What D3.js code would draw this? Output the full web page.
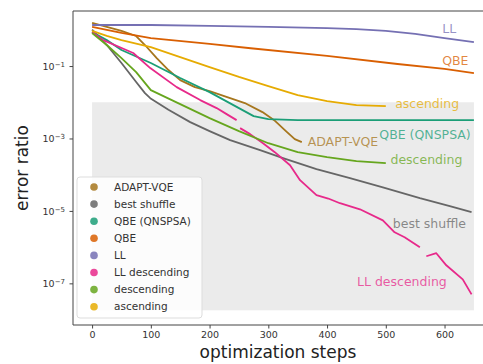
<!DOCTYPE html>
<html><head><meta charset="utf-8">
<script src="https://cdn.jsdelivr.net/npm/d3@7"></script>
<style>body{margin:0;background:#fff}svg{display:block}text{font-family:"DejaVu Sans",sans-serif}</style>
</head><body>
<svg id="c" width="483" height="364"></svg>
<script>
// ---- data ----
const seriesNames = ["ADAPT-VQE","best shuffle","QBE (QNSPSA)","QBE","LL","LL descending","descending","ascending"];
const seriesColors = ["#a6761d","#666666","#1b9e77","#d95f02","#7570b3","#e7298a","#66a61e","#e6ab02"];

const adaptSteps = [0,25,50,75,90,110,130,150,175,200,230,260,290,310,330,345,357];
const adaptVals  = [1.55,1.2,0.93,0.675,0.381,0.166,0.0775,0.041,0.0262,0.0204,0.0139,0.0095,0.00535,0.00321,0.0016,0.00096,0.00079];

const shuffleSteps = [0,25,50,75,90,99,130,167,200,235,286,325,382,439,495,558,609,646];
const shuffleVals  = [1.01,0.381,0.121,0.0361,0.0179,0.013,0.0062,0.00283,0.0016,9.0e-4,4.76e-4,2.86e-4,1.42e-4,8.0e-5,4.5e-5,2.24e-5,1.35e-5,9.2e-6];

const qnspsaSteps = [0,25,50,100,150,200,250,275,300,350,450,550,650];
const qnspsaVals  = [0.871,0.52,0.277,0.121,0.0466,0.0191,0.0069,0.00415,0.00343,0.00321,0.00321,0.00321,0.00321];

const qbeSteps = [0,50,100,200,270,400,520,600,650];
const qbeVals  = [1.2,0.82,0.59,0.41,0.31,0.19,0.114,0.083,0.064];

const llSteps = [0,100,200,300,400,450,500,550,600,650];
const llVals  = [1.36,1.36,1.28,1.2,1.12,1.05,0.93,0.77,0.59,0.46];

const llDescSteps = [0,19,70,99,144,184,212,229,246,249,252,269,291,311,337,354,382,402,422,456,495,515,532,558,563,569,586,603,631,646];
const llDescVals  = [0.871,0.52,0.229,0.088,0.0262,0.0115,0.0069,0.00471,0.00321,null,0.00193,0.00132,7.4e-4,4.19e-4,1.83e-4,7.05e-5,2.72e-5,2.2e-5,1.63e-5,1.11e-5,5.5e-6,2.57e-6,1.87e-6,9.9e-7,null,5.6e-7,6.8e-7,3.15e-7,1.29e-7,4.97e-8];

const descSteps = [0,25,50,75,100,150,200,250,300,350,400,450,500];
const descVals  = [0.817,0.381,0.166,0.0682,0.0217,0.0089,0.00365,0.0016,7.4e-4,4.19e-4,3.05e-4,2.36e-4,2.08e-4];

const ascSteps = [0,25,50,100,150,200,250,300,350,400,450,500];
const ascVals  = [0.93,0.68,0.52,0.335,0.177,0.094,0.05,0.028,0.0158,0.0108,0.00835,0.00784];

const xTicks = [0,100,200,300,400,500,600];
const yTicks = [1e-1,1e-3,1e-5,1e-7];
const yTickExp = ["−1","−3","−5","−7"];
const shadeX = [0,650];
const shadeY = [1e-2,1.8e-8];

const seriesSteps = [adaptSteps,shuffleSteps,qnspsaSteps,qbeSteps,llSteps,llDescSteps,descSteps,ascSteps];
const seriesVals  = [adaptVals,shuffleVals,qnspsaVals,qbeVals,llVals,llDescVals,descVals,ascVals];
// end labels: [name index, label x (step), label y (value)]
const endLabels = [
  [4, 596, 0.82],
  [3, 596, 0.107],
  [7, 516, 0.0068],
  [2, 489, 0.00098],
  [0, 367, 0.00062],
  [6, 508, 1.95e-4],
  [1, 512, 3.3e-6],
  [5, 451, 8.5e-8]
];

// ---- chart ----
const svg = d3.select("#c");
const L = 73, R = 493, T = 11, B = 325;
const x = d3.scaleLinear().domain([-32.5, 682.5]).range([L, R]);
const y = d3.scaleLog().domain([Math.pow(10,0.52), Math.pow(10,-8.15)]).range([T, B]);

svg.append("rect")
  .attr("x", x(shadeX[0])).attr("width", x(shadeX[1]) - x(shadeX[0]))
  .attr("y", y(shadeY[0])).attr("height", y(shadeY[1]) - y(shadeY[0]))
  .attr("fill", "#ebebeb");

const line = d3.line()
  .defined(d => d[1] != null)
  .x(d => x(d[0])).y(d => y(d[1]));

// draw order so that upper-index series lie on top as in matplotlib
seriesNames.forEach((n, i) => {
  const pts = seriesSteps[i].map((s, k) => [s, seriesVals[i][k]]);
  svg.append("path").datum(pts)
    .attr("d", line)
    .attr("fill", "none")
    .attr("stroke", seriesColors[i])
    .attr("stroke-width", 1.8)
    .attr("stroke-linejoin", "round");
});

endLabels.forEach(([i, sx, v]) => {
  svg.append("text")
    .attr("x", x(sx)).attr("y", y(v))
    .attr("font-size", 12.5)
    .attr("fill", seriesColors[i])
    .attr("fill-opacity", 0.75)
    .text(seriesNames[i]);
});

// axes spines
const spine = svg.append("g").attr("stroke", "#444").attr("stroke-width", 1).attr("fill", "none");
spine.append("line").attr("x1", L).attr("x2", L).attr("y1", T).attr("y2", B);
spine.append("line").attr("x1", L).attr("x2", R).attr("y1", B).attr("y2", B);
spine.append("line").attr("x1", L).attr("x2", R).attr("y1", T).attr("y2", T);
spine.append("line").attr("x1", R).attr("x2", R).attr("y1", T).attr("y2", B);

const xAxis = d3.axisBottom(x).tickValues(xTicks).tickSize(3.5).tickPadding(3).tickFormat(d3.format("d"));
const gx = svg.append("g").attr("transform", `translate(0,${B})`).call(xAxis);
gx.select(".domain").remove();
gx.selectAll("line").attr("stroke", "#444");
gx.selectAll("text").attr("font-size", 9.5).attr("fill", "#333").attr("font-family", "DejaVu Sans");

const yAxis = d3.axisLeft(y).tickValues(yTicks).tickSize(3.5).tickPadding(3).tickFormat(() => "");
const gy = svg.append("g").attr("transform", `translate(${L},0)`).call(yAxis);
gy.select(".domain").remove();
gy.selectAll("line").attr("stroke", "#444");
gy.selectAll(".tick").each(function(d, k) {
  const t = d3.select(this).append("text")
    .attr("x", -8).attr("dy", "0.35em").attr("text-anchor", "end")
    .attr("fill", "#333").attr("font-size", 9.5);
  t.append("tspan").text("10");
  t.append("tspan").attr("dy", "-0.45em").attr("font-size", 7).text(yTickExp[k]);
});

// axis titles
svg.append("text").attr("x", (L + R) / 2 - 5).attr("y", 358).attr("text-anchor", "middle")
  .attr("font-size", 17).attr("fill", "#222").text("optimization steps");
svg.append("text").attr("transform", `translate(28,${(T + B) / 2}) rotate(-90)`)
  .attr("text-anchor", "middle").attr("font-size", 17).attr("fill", "#222").text("error ratio");

// legend
const lg = svg.append("g");
lg.append("rect").attr("x", 77).attr("y", 177).attr("width", 125).attr("height", 141)
  .attr("rx", 3).attr("fill", "#fff").attr("fill-opacity", 0.85).attr("stroke", "#ddd");
seriesNames.forEach((n, i) => {
  const cy = 187 + i * 17.1;
  lg.append("circle").attr("cx", 94).attr("cy", cy).attr("r", 3.8).attr("fill", seriesColors[i]).attr("fill-opacity", 0.85);
  lg.append("text").attr("x", 114).attr("y", cy).attr("dy", "0.35em").attr("font-size", 10.5).attr("fill", "#333").text(n);
});
</script>
</body></html>
